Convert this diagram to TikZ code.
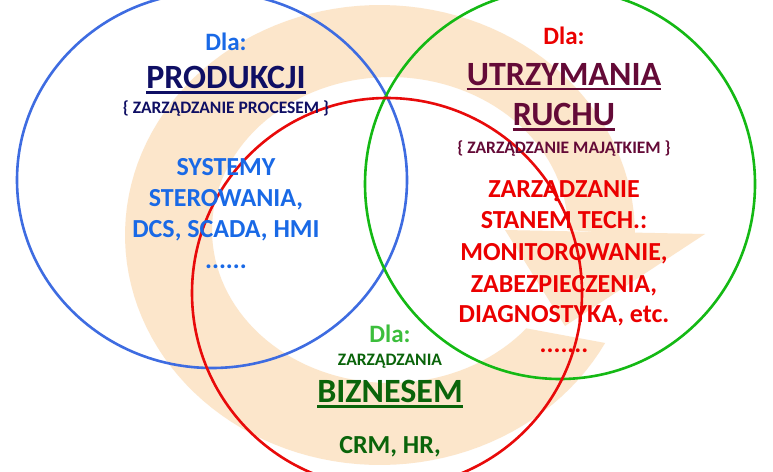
\documentclass[tikz,border=0pt]{standalone}
\usepackage{fontspec}
\setmainfont{Carlito}
\definecolor{peach}{RGB}{252,230,203}
\definecolor{blueC}{RGB}{62,108,225}
\definecolor{blueT}{RGB}{25,105,230}
\definecolor{navy}{RGB}{15,15,100}
\definecolor{redC}{RGB}{232,10,10}
\definecolor{redT}{RGB}{235,0,0}
\definecolor{maroon}{RGB}{100,10,55}
\definecolor{greenC}{RGB}{20,185,20}
\definecolor{greenL}{RGB}{60,190,60}
\definecolor{greenD}{RGB}{10,100,10}
\tikzset{
  dla/.style={anchor=base, inner sep=0pt, font=\bfseries\fontsize{25}{25}\selectfont},
  big/.style={anchor=base, inner sep=0pt, font=\bfseries\fontsize{34}{34}\selectfont},
  small/.style={anchor=base, inner sep=0pt, font=\bfseries\fontsize{17.5}{17.5}\selectfont},
  body/.style={anchor=base, inner sep=0pt, font=\bfseries\fontsize{26}{26}\selectfont},
  ring/.style={line width=2.6pt},
  ul/.style={line width=2.2pt}
}
\begin{document}
\begin{tikzpicture}[x=1pt,y=-1pt]
\useasboundingbox (0,0) rectangle (773,471);
\fill[white] (0,0) rectangle (773,471);
% circular arrow background
\fill[peach] plot[domain=28:360, samples=120] ({380+255*cos(\x)},{235+230*sin(\x)})
  -- plot[domain=360:40, samples=120] ({390+178*cos(\x)},{230+153*sin(\x)}) -- cycle;
\coordinate (hi) at (505,230);
\coordinate (ho) at (705,234);
\coordinate (tip) at (565,326);
\fill[peach] (hi) -- (ho) -- (tip) -- cycle;
% circles
\draw[ring, blueC] (212,180) ellipse[x radius=195, y radius=188];
\draw[ring, greenC] (560,184) circle[radius=195];
\draw[ring, redC] (387,293) circle[radius=195];
% blue group
\node[dla, blueT] (b1) at (226,50) {Dla:};
\node[big, navy] (b2) at (226,88) {PRODUKCJI};
\draw[ul, navy] ([yshift=-4.5pt]b2.base west) -- ([yshift=-4.5pt]b2.base east);
\node[small, navy] (b3) at (226,113) {\{ ZARZĄDZANIE PROCESEM \}};
\node[body, blueT] (b4) at (226,175) {SYSTEMY};
\node[body, blueT] (b5) at (226,206) {STEROWANIA,};
\node[body, blueT] (b6) at (226,237) {DCS, SCADA, HMI};
\node[body, blueT] (b7) at (226,268) {......};
% red group
\node[dla, redT] (r1) at (564,44) {Dla:};
\node[big, maroon] (r2) at (564,85) {UTRZYMANIA};
\draw[ul, maroon] ([yshift=-4pt]r2.base west) -- ([yshift=-4pt]r2.base east);
\node[big, maroon] (r3) at (564,125) {RUCHU};
\draw[ul, maroon] ([yshift=-4.5pt]r3.base west) -- ([yshift=-4.5pt]r3.base east);
\node[small, maroon] (r4) at (564,153) {\{ ZARZĄDZANIE MAJĄTKIEM \}};
\node[body, redT] (r5) at (564,197) {ZARZĄDZANIE};
\node[body, redT] (r6) at (564,228) {STANEM TECH.:};
\node[body, redT] (r7) at (564,260) {MONITOROWANIE,};
\node[body, redT] (r8) at (564,292) {ZABEZPIECZENIA,};
\node[body, redT] (r9) at (564,322) {DIAGNOSTYKA, etc.};
\node[body, redT] (r10) at (564,352) {.......};
% green group
\node[dla, greenL] (g1) at (390,342) {Dla:};
\node[small, greenD] (g2) at (390,365) {ZARZĄDZANIA};
\node[big, greenD] (g3) at (390,402) {BIZNESEM};
\draw[ul, greenD] ([yshift=-4.5pt]g3.base west) -- ([yshift=-4.5pt]g3.base east);
\node[body, greenD] (g4) at (390,453) {CRM, HR,};
\end{tikzpicture}
\end{document}
